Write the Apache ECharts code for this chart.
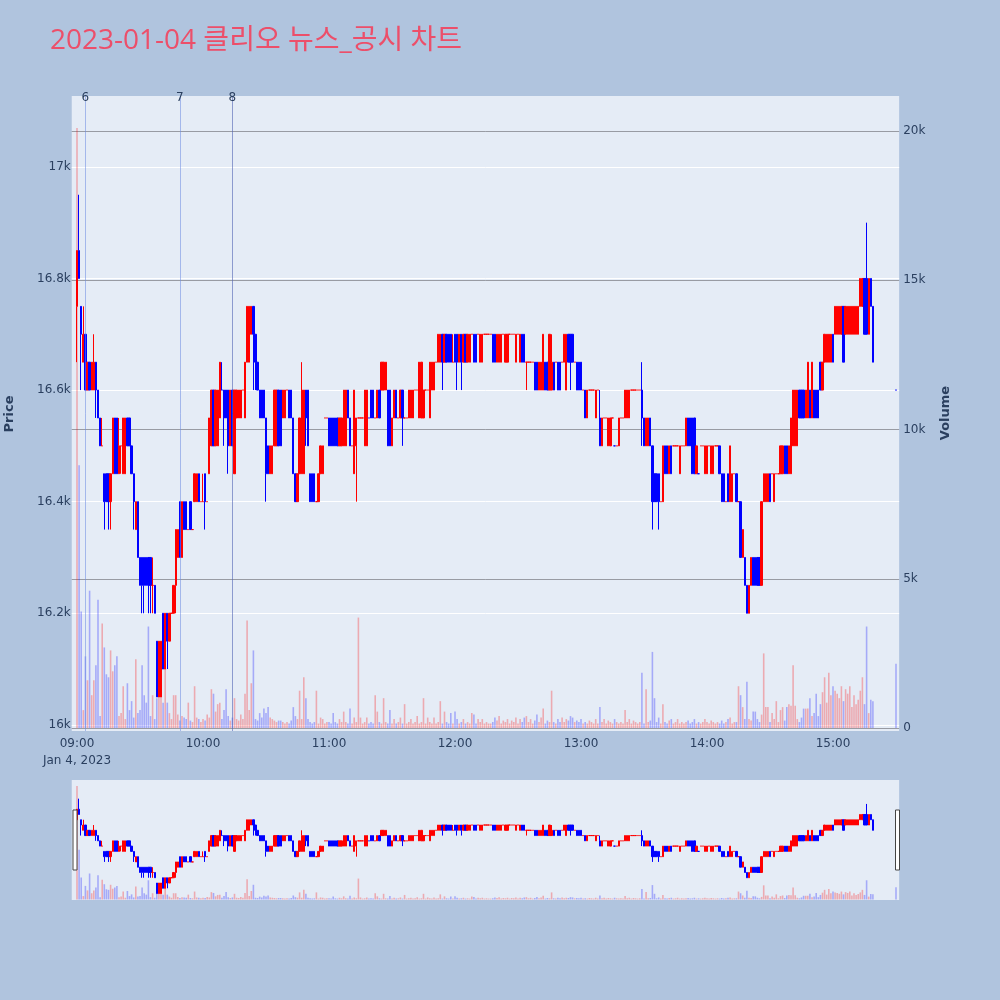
<!DOCTYPE html>
<html><head><meta charset="utf-8">
<script src="https://cdn.jsdelivr.net/npm/echarts@6/dist/echarts.min.js"></script>
<style>html,body{margin:0;padding:0;background:#B0C4DE;}#c{width:1000px;height:1000px;}</style>
</head><body><div id="c"></div>
<script>
const titleText = '2023-01-04 클리오 뉴스_공시 차트';
const sessionStartMin = 9 * 60;
const auctionTime = '15:30';
const openP = [
16750,16850,16750,16650,16700,16600,16650,16600,16600,16650,
16600,16550,16500,16450,16450,16450,16400,16450,16550,16550,
16450,16500,16450,16450,16550,16550,16500,16450,16350,16400,
16300,16300,16300,16300,16300,16300,16250,16250,16150,16050,
16050,16200,16100,16200,16150,16200,16200,16250,16300,16400,
16300,16400,16400,16350,16400,16350,16400,16400,16450,16400,
16400,16450,16400,16450,16500,16600,16500,16500,16550,16600,
16600,16600,16600,16500,16600,16450,16550,16550,16550,16600,
16550,16650,16650,16700,16750,16700,16650,16600,16600,16600,
16550,16500,16450,16450,16500,16500,16600,16600,16550,16550,
16600,16600,16600,16550,16450,16400,16450,16450,16450,16600,
16600,16450,16450,16450,16400,16400,16450,16450,16550,16550,
16550,16550,16550,16550,16550,16500,16500,16500,16500,16600,
16550,16500,16450,16500,16550,16550,16550,16500,16500,16550,
16600,16600,16550,16550,16600,16600,16600,16600,16600,16600,
16500,16550,16600,16550,16550,16600,16550,16550,16550,16550,
16550,16600,16600,16550,16550,16550,16600,16600,16550,16600,
16600,16650,16650,16650,16700,16650,16700,16700,16700,16650,
16700,16700,16650,16700,16650,16700,16650,16650,16700,16700,
16700,16700,16650,16650,16700,16700,16700,16700,16700,16700,
16650,16650,16650,16700,16650,16650,16700,16700,16700,16650,
16700,16650,16700,16700,16650,16650,16650,16650,16650,16650,
16600,16600,16600,16650,16650,16600,16600,16650,16650,16650,
16650,16650,16650,16600,16700,16700,16700,16650,16650,16650,
16650,16600,16600,16550,16600,16600,16600,16550,16600,16550,
16500,16550,16550,16500,16500,16550,16500,16500,16500,16550,
16550,16550,16550,16550,16600,16600,16600,16600,16600,16600,
16550,16500,16500,16550,16500,16450,16450,16450,16400,16400,
16500,16500,16450,16500,16500,16500,16500,16450,16500,16500,
16500,16550,16550,16550,16550,16450,16450,16500,16500,16450,
16450,16500,16450,16450,16500,16500,16500,16450,16450,16400,
16450,16400,16400,16450,16450,16400,16400,16300,16300,16250,
16200,16250,16300,16300,16300,16300,16250,16400,16400,16400,
16450,16450,16400,16450,16450,16450,16450,16500,16500,16450,
16450,16500,16500,16500,16600,16600,16600,16550,16550,16600,
16550,16600,16600,16600,16650,16600,16650,16650,16650,16650,
16700,16700,16700,16700,16700,16750,16700,16700,16700,16700,
16700,16700,16700,16750,16750,16800,16800,16700,16800,16750,
16600];
const closeP = [
16850,16800,16700,16700,16600,16650,16600,16650,16650,16600,
16550,16500,16500,16400,16400,16400,16450,16550,16450,16450,
16500,16500,16550,16550,16500,16500,16450,16400,16400,16300,
16250,16250,16250,16250,16250,16250,16250,16200,16050,16150,
16150,16100,16200,16150,16200,16200,16250,16350,16350,16300,
16400,16350,16350,16350,16350,16350,16450,16450,16400,16400,
16400,16400,16400,16550,16600,16500,16600,16600,16650,16600,
16550,16550,16500,16600,16500,16600,16600,16600,16600,16600,
16650,16750,16750,16750,16700,16650,16600,16550,16550,16550,
16450,16450,16500,16500,16600,16600,16500,16500,16600,16600,
16600,16550,16550,16450,16400,16450,16550,16600,16600,16550,
16500,16400,16400,16400,16400,16450,16500,16500,16550,16550,
16500,16500,16500,16500,16500,16550,16550,16600,16600,16550,
16500,16500,16600,16550,16550,16550,16550,16600,16600,16550,
16550,16550,16550,16600,16550,16650,16650,16650,16500,16500,
16550,16600,16550,16550,16600,16550,16550,16550,16600,16600,
16600,16600,16600,16650,16650,16600,16600,16600,16650,16650,
16650,16650,16700,16700,16650,16700,16650,16650,16650,16650,
16650,16650,16700,16650,16700,16650,16700,16700,16700,16650,
16650,16700,16700,16700,16700,16700,16700,16700,16650,16650,
16700,16700,16700,16700,16700,16700,16700,16700,16700,16700,
16700,16700,16650,16650,16650,16650,16650,16650,16600,16600,
16650,16650,16700,16600,16600,16700,16650,16600,16650,16600,
16600,16650,16700,16700,16650,16650,16650,16650,16600,16600,
16600,16600,16550,16600,16600,16600,16600,16600,16600,16500,
16550,16550,16550,16550,16550,16550,16500,16500,16550,16550,
16550,16600,16600,16600,16600,16600,16600,16600,16600,16550,
16500,16550,16550,16500,16400,16400,16400,16400,16400,16500,
16450,16450,16500,16450,16500,16500,16500,16500,16500,16500,
16550,16500,16500,16450,16450,16500,16450,16500,16500,16500,
16500,16500,16500,16500,16500,16500,16450,16400,16400,16400,
16400,16500,16450,16450,16400,16400,16300,16350,16250,16200,
16250,16300,16250,16250,16250,16250,16400,16450,16450,16450,
16400,16450,16450,16450,16450,16500,16500,16450,16450,16500,
16550,16600,16600,16600,16550,16550,16550,16600,16650,16550,
16650,16550,16550,16550,16600,16650,16700,16700,16700,16700,
16650,16750,16750,16750,16750,16650,16750,16750,16750,16750,
16750,16750,16750,16800,16800,16700,16700,16800,16750,16650,
16600];
const lowP = [
16650,16800,16600,16650,16600,16600,16600,16600,16600,16550,
16550,16500,16500,16350,16400,16350,16350,16450,16450,16450,
16450,16450,16450,16450,16500,16500,16450,16350,16350,16300,
16250,16200,16200,16250,16200,16200,16200,16200,16050,16050,
16050,16100,16100,16100,16150,16200,16200,16200,16300,16300,
16300,16350,16350,16350,16350,16350,16400,16400,16400,16400,
16400,16350,16400,16450,16500,16500,16500,16500,16550,16600,
16500,16550,16450,16500,16500,16450,16550,16550,16550,16600,
16550,16650,16650,16700,16600,16600,16600,16550,16550,16550,
16400,16450,16450,16450,16500,16500,16500,16500,16550,16550,
16600,16550,16550,16450,16400,16400,16450,16450,16450,16500,
16500,16400,16400,16400,16400,16400,16450,16450,16550,16550,
16500,16500,16500,16500,16500,16500,16500,16500,16500,16550,
16500,16500,16450,16400,16550,16550,16550,16500,16500,16550,
16550,16550,16550,16550,16550,16600,16600,16600,16500,16500,
16500,16550,16550,16550,16550,16500,16550,16550,16550,16550,
16550,16600,16600,16550,16550,16550,16600,16600,16550,16600,
16600,16650,16650,16650,16600,16650,16650,16650,16650,16650,
16650,16600,16650,16600,16650,16650,16650,16650,16700,16650,
16650,16700,16650,16650,16700,16700,16700,16700,16650,16650,
16650,16650,16650,16700,16650,16650,16700,16700,16700,16650,
16700,16650,16650,16650,16600,16650,16650,16650,16600,16600,
16600,16600,16600,16600,16600,16600,16600,16600,16650,16600,
16600,16650,16650,16600,16650,16600,16650,16650,16600,16600,
16600,16600,16550,16550,16600,16600,16600,16550,16600,16500,
16500,16550,16550,16500,16500,16550,16500,16500,16500,16550,
16550,16550,16550,16550,16600,16600,16600,16600,16600,16500,
16500,16500,16500,16500,16350,16400,16400,16350,16400,16400,
16450,16450,16450,16450,16500,16500,16500,16450,16500,16500,
16500,16500,16500,16450,16450,16450,16450,16500,16500,16450,
16450,16500,16450,16450,16500,16500,16450,16400,16400,16400,
16400,16400,16400,16450,16400,16400,16300,16300,16250,16200,
16200,16250,16250,16250,16250,16250,16250,16400,16400,16400,
16400,16450,16400,16450,16450,16450,16450,16450,16450,16450,
16450,16500,16500,16500,16550,16550,16550,16550,16550,16550,
16550,16550,16550,16550,16600,16600,16650,16650,16650,16650,
16650,16700,16700,16700,16700,16650,16700,16700,16700,16700,
16700,16700,16700,16750,16750,16700,16700,16700,16750,16650,
16600];
const highP = [
16850,16950,16750,16750,16700,16650,16650,16650,16700,16650,
16600,16550,16550,16450,16450,16450,16450,16550,16550,16550,
16550,16500,16550,16550,16550,16550,16500,16450,16400,16400,
16300,16300,16300,16300,16300,16300,16300,16250,16150,16150,
16150,16200,16200,16200,16200,16200,16250,16350,16350,16400,
16400,16400,16400,16350,16400,16350,16450,16450,16450,16400,
16450,16450,16400,16550,16600,16600,16600,16600,16650,16650,
16600,16600,16600,16600,16600,16600,16600,16600,16600,16600,
16650,16750,16750,16750,16750,16700,16650,16600,16600,16600,
16550,16500,16500,16500,16600,16600,16600,16600,16600,16600,
16600,16600,16600,16550,16450,16450,16550,16650,16600,16600,
16600,16450,16450,16450,16400,16450,16500,16500,16550,16550,
16550,16550,16550,16550,16550,16550,16550,16600,16600,16600,
16550,16500,16600,16550,16550,16550,16550,16600,16600,16550,
16600,16600,16550,16600,16600,16650,16650,16650,16600,16600,
16550,16600,16600,16550,16600,16600,16550,16550,16600,16600,
16600,16600,16600,16650,16650,16600,16600,16600,16650,16650,
16650,16650,16700,16700,16700,16700,16700,16700,16700,16700,
16700,16700,16700,16700,16700,16700,16700,16700,16700,16700,
16700,16700,16700,16700,16700,16700,16700,16700,16700,16700,
16700,16700,16700,16700,16700,16700,16700,16700,16700,16700,
16700,16700,16700,16700,16650,16650,16650,16650,16650,16650,
16650,16650,16700,16650,16650,16700,16700,16650,16650,16650,
16650,16650,16700,16700,16700,16700,16700,16650,16650,16650,
16650,16600,16600,16600,16600,16600,16600,16600,16600,16600,
16550,16550,16550,16550,16550,16550,16500,16500,16550,16550,
16550,16600,16600,16600,16600,16600,16600,16600,16600,16650,
16550,16550,16550,16550,16500,16450,16450,16450,16400,16500,
16500,16500,16500,16500,16500,16500,16500,16500,16500,16500,
16550,16550,16550,16550,16550,16500,16450,16500,16500,16500,
16500,16500,16500,16500,16500,16500,16500,16450,16450,16400,
16450,16500,16450,16450,16450,16400,16400,16350,16300,16250,
16250,16300,16300,16300,16300,16300,16400,16450,16450,16450,
16450,16450,16450,16450,16450,16500,16500,16500,16500,16500,
16550,16600,16600,16600,16600,16600,16600,16600,16650,16600,
16650,16600,16600,16600,16650,16650,16700,16700,16700,16700,
16700,16750,16750,16750,16750,16750,16750,16750,16750,16750,
16750,16750,16750,16800,16800,16800,16900,16800,16800,16750,
16600];
const volume = [
20100,8800,3900,600,2400,1600,4600,1100,1600,2100,
4300,400,3500,2700,1800,1700,2600,1900,2100,2400,
400,500,1400,300,1500,600,900,350,2300,500,
600,2100,1100,850,3400,400,1100,300,1000,1400,
1100,850,2700,850,500,300,1100,1100,450,250,
400,350,300,850,250,200,1400,350,300,200,
300,250,450,350,1300,1150,550,800,850,300,
600,1300,400,250,350,1000,300,250,450,300,
1150,3600,600,1500,2600,300,250,500,350,650,
500,700,350,300,250,200,250,250,200,150,
200,150,250,700,400,300,1250,300,1700,1000,
300,200,150,200,1250,150,350,300,150,200,
200,150,500,200,150,300,200,550,200,150,
650,150,350,200,3700,350,150,200,350,150,
200,150,1100,550,200,150,1000,200,150,600,
150,300,150,200,350,150,800,150,200,300,
150,200,400,150,200,1000,150,350,200,150,
350,150,200,900,150,550,200,150,500,150,
550,300,150,200,300,150,200,150,500,450,
150,300,200,300,150,200,150,150,200,350,
250,400,150,250,200,300,150,250,200,350,
150,300,200,350,400,200,300,150,250,450,
200,350,650,150,250,200,1250,200,150,300,
200,350,200,300,250,400,350,200,250,200,
300,150,200,150,250,200,150,300,150,700,
200,300,150,250,200,150,300,200,150,200,
150,600,200,300,150,250,200,150,200,1850,
150,1300,200,250,2550,1000,200,350,150,800,
200,150,250,300,150,200,300,150,200,150,
200,250,150,200,300,150,200,150,200,300,
200,150,250,200,150,200,150,250,150,200,
300,350,150,200,200,1400,1100,700,300,1550,
300,250,550,550,300,200,450,2500,700,700,
200,500,300,900,200,600,700,250,700,800,
750,2100,750,300,200,350,650,650,650,1000,
400,500,1150,400,800,1200,1700,850,1850,1100,
1400,1250,1150,1000,1400,900,1300,1150,1400,700,
1100,800,950,1250,1700,800,3400,500,950,900,
2150];
const newsTimes = ['09:04', '09:49', '10:14'];
const newsLabels = ['6', '7', '8'];
const priceTicks = [16000, 16200, 16400, 16600, 16800, 17000];
const volumeTicks = [0, 5000, 10000, 15000, 20000];
const dateLabel = 'Jan 4, 2023';

const pad = n => String(n).padStart(2, '0');
const tlabel = m => { const t = sessionStartMin + m; return pad(Math.floor(t / 60)) + ':' + pad(t % 60); };
const axisCats = [];
for (let m = -2; m <= 391; m++) axisCats.push(tlabel(m));
const tradeTimes = [];
for (let m = 0; m < openP.length - 1; m++) tradeTimes.push(tlabel(m));
tradeTimes.push(auctionTime);

const sign = openP.map((o, i) => {
  const c = closeP[i];
  if (c > o) return 1;
  if (c < o) return -1;
  if (i === 0) return 1;
  return closeP[i - 1] <= c ? 1 : -1;
});
const candleData = tradeTimes.map((t, i) => [t, openP[i], closeP[i], lowP[i], highP[i]]);
const volData = tradeTimes.map((t, i) => ({
  value: [t, volume[i]],
  itemStyle: { color: sign[i] > 0 ? 'rgba(255,0,0,0.28)' : 'rgba(0,0,255,0.28)' }
}));

const TXT = '#2a3f5f';
const FONT = '"DejaVu Sans", Verdana, sans-serif';
const TFONT = '"Open Sans", "Noto Sans CJK KR", sans-serif';
const PMIN = 15989, PMAX = 17127, VMIN = -100, VMAX = 21172;
const candleStyle = { color: '#FF0000', color0: '#0000FF', borderColor: '#FF0000', borderColor0: '#0000FF', borderWidth: 1 };
const newsColors = ['rgba(110,140,225,0.55)', 'rgba(110,140,225,0.55)', 'rgba(80,100,180,0.6)'];

const chart = echarts.init(document.getElementById('c'), null, { renderer: 'canvas', width: 1000, height: 1000 });
chart.setOption({
  animation: false,
  backgroundColor: '#B0C4DE',
  textStyle: { fontFamily: FONT },
  title: {
    text: titleText, left: 50, top: 27, padding: 0,
    textStyle: { fontSize: 28, fontWeight: 'normal', color: '#EC4F6A', fontFamily: TFONT }
  },
  grid: [
    { left: 71.75, top: 96, width: 827.4, height: 635, show: true, backgroundColor: '#E5ECF6', borderWidth: 0 },
    { left: 71.75, top: 780, width: 827.4, height: 120, show: true, backgroundColor: '#E5ECF6', borderWidth: 0 }
  ],
  xAxis: [
    {
      type: 'category', gridIndex: 0, data: axisCats, boundaryGap: true,
      axisLine: { show: false }, axisTick: { show: false }, splitLine: { show: false },
      axisLabel: {
        color: TXT, fontSize: 12, margin: 5, lineHeight: 16.5, fontFamily: FONT,
        interval: (idx) => { const m = idx - 2; return m >= 0 && m % 60 === 0 && m <= 360; },
        formatter: (v) => v === '09:00' ? v + '\n' + dateLabel : v
      }
    },
    {
      type: 'category', gridIndex: 1, data: axisCats, boundaryGap: true, show: false
    }
  ],
  yAxis: [
    {
      type: 'value', gridIndex: 0, position: 'left', min: PMIN, max: PMAX, scale: true,
      axisLine: { show: false }, axisTick: { show: false, customValues: priceTicks },
      axisLabel: { customValues: priceTicks, color: TXT, fontSize: 12, margin: 1, fontFamily: FONT,
        formatter: v => (v / 1000) + 'k' },
      splitLine: { show: true, lineStyle: { color: '#FFFFFF', width: 1 } }
    },
    {
      type: 'value', gridIndex: 0, position: 'right', min: VMIN, max: VMAX,
      axisLine: { show: false }, axisTick: { show: false, customValues: volumeTicks },
      axisLabel: { customValues: volumeTicks, color: TXT, fontSize: 12, margin: 4, fontFamily: FONT,
        formatter: v => v === 0 ? '0' : (v / 1000) + 'k' },
      splitLine: { show: true, lineStyle: { color: 'rgba(90,90,95,0.55)', width: 1 } }
    },
    { type: 'value', gridIndex: 1, min: PMIN, max: PMAX, show: false, splitLine: { show: false } },
    { type: 'value', gridIndex: 1, min: VMIN, max: VMAX, show: false, splitLine: { show: false } }
  ],
  graphic: [
    { type: 'text', x: 10, y: 414, rotation: Math.PI / 2,
      style: { text: 'Price', font: 'bold 13px "DejaVu Sans"', fill: TXT, textAlign: 'center', textVerticalAlign: 'middle' } },
    { type: 'text', x: 946, y: 413, rotation: Math.PI / 2,
      style: { text: 'Volume', font: 'bold 13px "DejaVu Sans"', fill: TXT, textAlign: 'center', textVerticalAlign: 'middle' } },
    { type: 'rect', shape: { x: 73, y: 810, width: 4, height: 60 }, style: { fill: '#FFFFFF', stroke: '#444444', lineWidth: 1 }, z: 100 },
    { type: 'rect', shape: { x: 895.5, y: 810, width: 4, height: 60 }, style: { fill: '#FFFFFF', stroke: '#444444', lineWidth: 1 }, z: 100 }
  ],
  series: [
    {
      type: 'bar', xAxisIndex: 0, yAxisIndex: 1, data: volData, barWidth: 1.6, z: 1, silent: true
    },
    {
      type: 'candlestick', xAxisIndex: 0, yAxisIndex: 0, data: candleData,
      encode: { x: 0, y: [1, 2, 3, 4] }, barWidth: 1.8, itemStyle: candleStyle, z: 3, silent: true,
      markLine: {
        silent: true, symbol: ['none', 'none'], animation: false, precision: 0,
        label: { show: true, position: 'end', formatter: '{b}', color: TXT, fontSize: 12, distance: -8, fontFamily: FONT },
        data: newsTimes.map((t, i) => ({ name: newsLabels[i], xAxis: t, lineStyle: { color: newsColors[i], width: 1, type: 'solid' } }))
      }
    },
    {
      type: 'bar', xAxisIndex: 1, yAxisIndex: 3, data: volData, barWidth: 1.6, z: 1, silent: true
    },
    {
      type: 'candlestick', xAxisIndex: 1, yAxisIndex: 2, data: candleData,
      encode: { x: 0, y: [1, 2, 3, 4] }, barWidth: 1.8, itemStyle: candleStyle, z: 3, silent: true
    }
  ]
});
</script>
</body></html>
